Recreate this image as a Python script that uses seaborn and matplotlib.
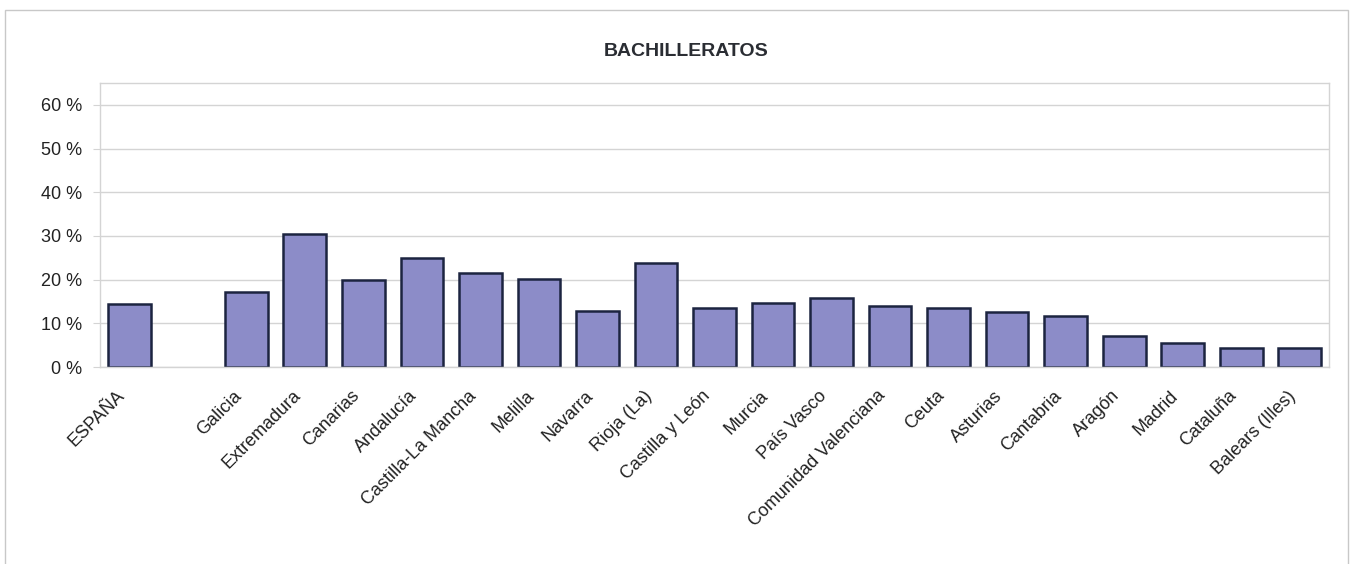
import numpy as np
import pandas as pd
import matplotlib
matplotlib.use('Agg')
import matplotlib.pyplot as plt
import matplotlib.transforms as mtransforms
import seaborn as sns
from matplotlib.patches import Rectangle

regions = ['ESPAÑA', 'Galicia', 'Extremadura', 'Canarias', 'Andalucía',
           'Castilla-La Mancha', 'Melilla', 'Navarra', 'Rioja (La)',
           'Castilla y León', 'Murcia', 'País Vasco', 'Comunidad Valenciana',
           'Ceuta', 'Asturias', 'Cantabria', 'Aragón', 'Madrid', 'Cataluña',
           'Balears (Illes)']
values = [14.4, 17.2, 30.5, 19.9, 24.9,
          21.5, 20.2, 12.9, 23.8,
          13.6, 14.7, 15.7, 14.0,
          13.5, 12.6, 11.6, 7.0, 5.4, 4.4,
          4.4]
yticks = [0, 10, 20, 30, 40, 50, 60]

# blank slot between ESPAÑA and the regions
order = [regions[0], ''] + regions[1:]

df = pd.DataFrame({'region': regions, 'pct': values})

sns.set_style('white')
plt.rcParams['font.family'] = ['Liberation Sans', 'DejaVu Sans']

fig = plt.figure(figsize=(13.51, 5.64), dpi=100)
fig.patches.append(Rectangle((5 / 1351, -0.1), 1343 / 1351, 1.1 - 10 / 564,
                             transform=fig.transFigure, fill=False,
                             edgecolor='#c8c8c8', linewidth=1))
ax = fig.add_axes([100 / 1351, (564 - 367) / 564, 1229 / 1351, 284 / 564])

sns.barplot(data=df, x='region', y='pct', order=order, color='#8c8cc8',
            saturation=1, edgecolor='#1c2440', linewidth=1.8, width=0.73, ax=ax)

ax.set_ylim(0, 65)
ax.set_yticks(yticks)
ax.set_yticklabels([f'{t} %' for t in yticks], fontsize=13, color='#222222')
ax.yaxis.grid(True, color='#d4d4d4', linewidth=1)
ax.set_axisbelow(True)
ax.tick_params(axis='y', length=5, color='#d4d4d4', left=True, pad=8)
ax.tick_params(axis='x', length=0, pad=19)
ax.set_xticks(range(len(order)))
ax.set_xticklabels(order, rotation=45, ha='right', va='center',
                   rotation_mode='anchor', fontsize=13, color='#222222')
shift = mtransforms.ScaledTranslation(-7 / 100, 0, fig.dpi_scale_trans)
for lbl in ax.get_xticklabels():
    lbl.set_transform(lbl.get_transform() + shift)
ax.set_xlabel('')
ax.set_ylabel('')
for s in ax.spines.values():
    s.set_color('#d4d4d4')
    s.set_linewidth(1)

fig.text(686 / 1351, 1 - 52 / 564, 'BACHILLERATOS', ha='center', va='center',
         fontsize=14, fontweight='bold', color='#2a2d33')

fig.savefig('out.png', dpi=100)
